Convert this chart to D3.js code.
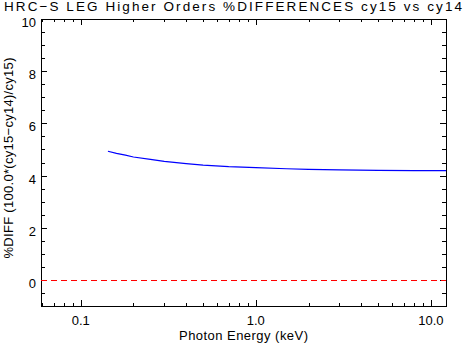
<!DOCTYPE html>
<html>
<head>
<meta charset="utf-8">
<script src="https://cdn.jsdelivr.net/npm/d3@7"></script>
<style>
  body { margin: 0; background: #fff; }
  svg text { font-family: "Liberation Sans", "DejaVu Sans", sans-serif; fill: #000; }
</style>
</head>
<body>
<svg width="465" height="344"></svg>
<script>
// photon energy (keV) and % difference
const energy = [0.143, 0.16, 0.18, 0.20, 0.25, 0.30, 0.40, 0.50, 0.70, 1.0, 1.5, 2.0, 3.0, 5.0, 8.0, 12.2];
const pctDiff = [4.93, 4.85, 4.78, 4.71, 4.62, 4.54, 4.46, 4.40, 4.34, 4.30, 4.26, 4.24, 4.22, 4.20, 4.19, 4.19];

const xMajor = [0.1, 1, 10];
const xMajorLabels = ["0.1", "1.0", "10.0"];
const yMajor = [0, 2, 4, 6, 8, 10];

const svg = d3.select("svg");
const plotLeft = 41, plotRight = 446, plotTop = 19, plotBottom = 306;

const x = d3.scaleLog().domain([0.0593, 12.2]).range([plotLeft, plotRight]);
const y = d3.scaleLinear().domain([-1, 10]).range([plotBottom, plotTop]);

// minor ticks on the log axis: 2..9 times each decade
const xMinor = [];
[0.01, 0.1, 1, 10].forEach(d => {
    for (let k = 2; k <= 9; k++) {
        const v = d * k;
        if (v > x.domain()[0] && v < x.domain()[1]) xMinor.push(v);
    }
});
const yMinor = d3.range(-0.5, 10, 0.5).filter(v => v % 2 !== 0);

const g = svg.append("g");

// frame
g.append("rect")
    .attr("x", plotLeft + 0.5).attr("y", plotTop + 0.5)
    .attr("width", plotRight - plotLeft).attr("height", plotBottom - plotTop)
    .attr("fill", "none").attr("stroke", "#000").attr("stroke-width", 1);

const px = v => Math.round(x(v)) + 0.5;
const py = v => Math.round(y(v)) + 0.5;

function tick(x1, y1, x2, y2) {
    g.append("line")
        .attr("x1", x1).attr("y1", y1).attr("x2", x2).attr("y2", y2)
        .attr("stroke", "#000").attr("stroke-width", 1);
}

xMajor.forEach(v => {
    tick(px(v), plotBottom, px(v), plotBottom - 6);
    tick(px(v), plotTop, px(v), plotTop + 6);
});
xMinor.forEach(v => {
    tick(px(v), plotBottom, px(v), plotBottom - 3);
    tick(px(v), plotTop, px(v), plotTop + 3);
});
yMajor.forEach(v => {
    tick(plotLeft, py(v), plotLeft + 6, py(v));
    tick(plotRight, py(v), plotRight - 6, py(v));
});
yMinor.forEach(v => {
    tick(plotLeft, py(v), plotLeft + 4, py(v));
    tick(plotRight, py(v), plotRight - 4, py(v));
});

// tick labels
g.selectAll("text.xl")
    .data(xMajor)
    .enter().append("text")
    .attr("class", "xl")
    .attr("x", d => x(d))
    .attr("y", 325)
    .attr("text-anchor", "middle")
    .attr("font-size", 13)
    .text((d, i) => xMajorLabels[i]);

g.selectAll("text.yl")
    .data(yMajor)
    .enter().append("text")
    .attr("class", "yl")
    .attr("x", 36)
    .attr("y", d => y(d) + 8)
    .attr("text-anchor", "end")
    .attr("font-size", 13)
    .text(d => d);

// zero line
g.append("line")
    .attr("x1", plotLeft).attr("x2", plotRight)
    .attr("y1", py(0)).attr("y2", py(0))
    .attr("stroke", "#ff0000").attr("stroke-width", 1)
    .attr("stroke-dasharray", "6,4");

// data curve
const line = d3.line()
    .x((d, i) => x(energy[i]))
    .y(d => y(d));

g.append("path")
    .datum(pctDiff)
    .attr("d", line)
    .attr("fill", "none")
    .attr("stroke", "#0000ff")
    .attr("stroke-width", 1.2);

// titles (stretched to the width the IDL vector font takes)
svg.append("text")
    .attr("x", 233).attr("y", 11)
    .attr("text-anchor", "middle")
    .attr("font-size", 13.5)
    .attr("textLength", 458)
    .attr("lengthAdjust", "spacing")
    .text("HRC\u2212S LEG Higher Orders %DIFFERENCES cy15 vs cy14");

svg.append("text")
    .attr("x", 243.5).attr("y", 340)
    .attr("text-anchor", "middle")
    .attr("font-size", 13)
    .attr("textLength", 129)
    .attr("lengthAdjust", "spacing")
    .text("Photon Energy (keV)");

svg.append("text")
    .attr("transform", "translate(13,158) rotate(-90)")
    .attr("text-anchor", "middle")
    .attr("font-size", 13)
    .attr("textLength", 201)
    .attr("lengthAdjust", "spacing")
    .text("%DIFF (100.0*(cy15\u2212cy14)/cy15)");
</script>
</body>
</html>
